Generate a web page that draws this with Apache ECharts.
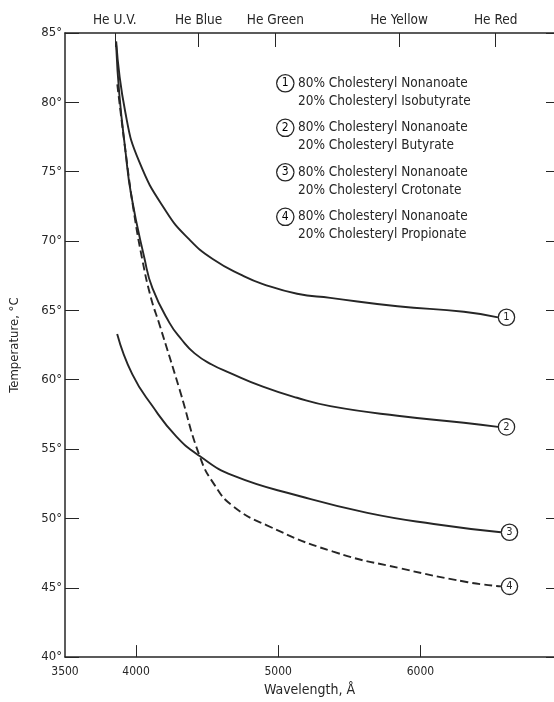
<!DOCTYPE html>
<html>
<head>
<meta charset="utf-8">
<script src="https://cdn.jsdelivr.net/npm/echarts@6/dist/echarts.min.js"></script>
<style>
  html, body { margin: 0; padding: 0; background: #fff; }
  #main { width: 554px; height: 702px; }
</style>
</head>
<body>
<div id="main"></div>
<script>
// wavelength (A), temperature (C)
const curve1 = [[3860, 84.4], [3924, 79.3], [4023, 75.7], [4214, 72.1], [4376, 70.1], [4539, 68.7], [4751, 67.5], [4892, 66.9], [5133, 66.2], [5366, 65.9], [5839, 65.3], [6306, 64.9], [6546, 64.5]]
const curve2 = [[3860, 84.1], [3882, 80.6], [3924, 76.6], [3966, 73.3], [4058, 68.8], [4115, 66.6], [4235, 64.1], [4320, 62.9], [4412, 61.9], [4532, 61.1], [4659, 60.5], [4892, 59.5], [5132, 58.7], [5366, 58.1], [5839, 57.4], [6306, 56.9], [6546, 56.6]]
const curve3 = [[3867, 63.3], [3973, 60.4], [4115, 58.1], [4284, 55.9], [4447, 54.5], [4680, 53.1], [5154, 51.6], [5627, 50.4], [6094, 49.6], [6567, 49.0]]
const curve4 = [[3868, 81.3], [3924, 76.6], [3980, 72.4], [4045, 68.6], [4105, 65.9], [4164, 64.0], [4306, 59.3], [4447, 54.5], [4553, 52.4], [4680, 50.9], [4920, 49.5], [5387, 47.6], [5860, 46.4], [6334, 45.4], [6567, 45.1]]

const xLabels = [3500, 4000, 5000, 6000]
const xTicks = [4000, 5000, 6000]
const heNames = ['He U.V.', 'He Blue', 'He Green', 'He Yellow', 'He Red']
const heWavelengths = [3850, 4440, 4980, 5850, 6530]
const mixTop = '80% Cholesteryl Nonanoate'
const mixBottom = ['20% Cholesteryl Isobutyrate', '20% Cholesteryl Butyrate', '20% Cholesteryl Crotonate', '20% Cholesteryl Propionate']

const font = '"DejaVu Sans Condensed", "Liberation Sans Narrow", sans-serif'
const ink = '#262626'

let myChart = echarts.init(document.getElementById('main'))

const circ = {
    width: 15, height: 15, lineHeight: 15, borderRadius: 8, borderColor: ink, borderWidth: 1.3,
    align: 'center', backgroundColor: '#fff', fontSize: 11, color: ink, fontFamily: font
}

function mkSeries(data, n, dashed) {
    return {
        type: 'line',
        data: data,
        smooth: 0.5,
        showSymbol: false,
        lineStyle: { color: ink, width: 1.9, type: dashed ? [8, 4] : 'solid' },
        endLabel: {
            show: true,
            distance: 1,
            formatter: '{c|' + n + '}',
            rich: { c: circ }
        },
        silent: true
    }
}

// legend block
let legendEls = []
mixBottom.forEach(function (b, i) {
    let y = 74 + i * 44.5
    legendEls.push({
        type: 'text', left: 276, top: y,
        style: { text: '{c|' + (i + 1) + '}', rich: { c: Object.assign({}, circ, { width: 16, height: 16, lineHeight: 16, fontSize: 12 }) } }
    })
    legendEls.push({
        type: 'text', left: 298, top: y,
        style: { text: mixTop + '\n' + b, font: '13.5px ' + font, fill: ink, lineHeight: 18 }
    })
})

myChart.setOption({
    animation: false,
    grid: { left: 64, right: 0, top: 33, bottom: 40 },
    textStyle: { fontFamily: font },
    xAxis: [{
        type: 'value', position: 'bottom', min: 3500, max: 6940,
        name: 'Wavelength, Å', nameLocation: 'middle', nameGap: 25,
        nameTextStyle: { fontSize: 14, color: ink, fontFamily: font },
        axisLine: { lineStyle: { color: ink, width: 1.5 } },
        axisTick: { show: true, inside: true, length: 12, customValues: xTicks, lineStyle: { color: ink } },
        axisLabel: { customValues: xLabels, color: ink, fontSize: 12, margin: 9, fontFamily: font, formatter: function (v) { return String(v) } },
        splitLine: { show: false }
    }, {
        type: 'value', position: 'top', min: 3500, max: 6940,
        axisLine: { lineStyle: { color: ink, width: 1.5 } },
        axisTick: { show: true, inside: true, length: 14, customValues: heWavelengths, lineStyle: { color: ink } },
        axisLabel: {
            customValues: heWavelengths, color: ink, fontSize: 13.5, margin: 6, fontFamily: font,
            formatter: function (v) { return heNames[heWavelengths.indexOf(v)] }
        },
        splitLine: { show: false }
    }],
    yAxis: [{
        type: 'value', position: 'left', min: 40, max: 85, interval: 5,
        name: 'Temperature, °C', nameLocation: 'middle', nameGap: 44,
        nameTextStyle: { fontSize: 13, color: ink, fontFamily: font },
        axisLine: { show: true, lineStyle: { color: ink, width: 1.5 } },
        axisTick: { show: true, inside: true, length: 14, lineStyle: { color: ink } },
        axisLabel: { color: ink, fontSize: 13, margin: 3, fontFamily: font, formatter: '{value}°' },
        splitLine: { show: false }
    }, {
        type: 'value', position: 'right', min: 40, max: 85, interval: 5,
        axisLine: { show: false },
        axisTick: { show: true, inside: true, length: 8, lineStyle: { color: ink } },
        axisLabel: { show: false },
        splitLine: { show: false }
    }],
    series: [
        mkSeries(curve1, 1, false),
        mkSeries(curve2, 2, false),
        mkSeries(curve3, 3, false),
        mkSeries(curve4, 4, true)
    ],
    graphic: legendEls
})

window.onresize = function () {
    myChart.resize()
}
</script>
</body>
</html>
